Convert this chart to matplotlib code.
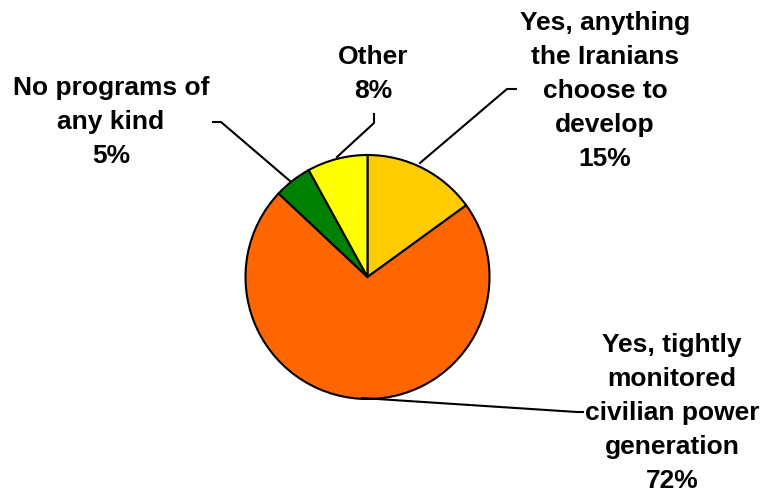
import matplotlib.pyplot as plt

labels = ["Yes, anything\nthe Iranians\nchoose to\ndevelop\n15%",
          "Yes, tightly\nmonitored\ncivilian power\ngeneration\n72%",
          "No programs of\nany kind\n5%",
          "Other\n8%"]
values = [15, 72, 5, 8]
colors = ["#FFCC00", "#FF6600", "#008000", "#FFFF00"]

H = 493
# label placement in pixels from top-left (center x, center y) and leader line points
label_pos = [(605, 91), (672, 413), (111, 122), (373, 74)]
leaders = [
    [(420, 163), (507, 89), (516, 89)],
    [(362, 398), (577, 412), (583, 412)],
    [(290, 181), (221, 122), (213, 122)],
    [(337, 157), (374, 123), (374, 114)],
]

fig = plt.figure(figsize=(7.63, 4.93), dpi=100)
ax = fig.add_axes([0, 0, 1, 1])

cx, cy, r = 367.5, 277, 122
ax.pie(values, colors=colors, startangle=90, counterclock=False,
       center=(cx, H - cy), radius=r, frame=True,
       wedgeprops=dict(edgecolor="black", linewidth=1.5))
ax.set_xlim(0, 763)
ax.set_ylim(0, H)
ax.set_aspect("equal")
ax.axis("off")

for lab, (x, y), pts in zip(labels, label_pos, leaders):
    ax.text(x, H - y, lab, ha="center", va="center", fontsize=19,
            fontweight="bold", family="Liberation Sans", linespacing=1.52)
    xs = [p[0] for p in pts]
    ys = [H - p[1] for p in pts]
    ax.plot(xs, ys, color="black", linewidth=1.5)

fig.savefig("out.png", dpi=100)
